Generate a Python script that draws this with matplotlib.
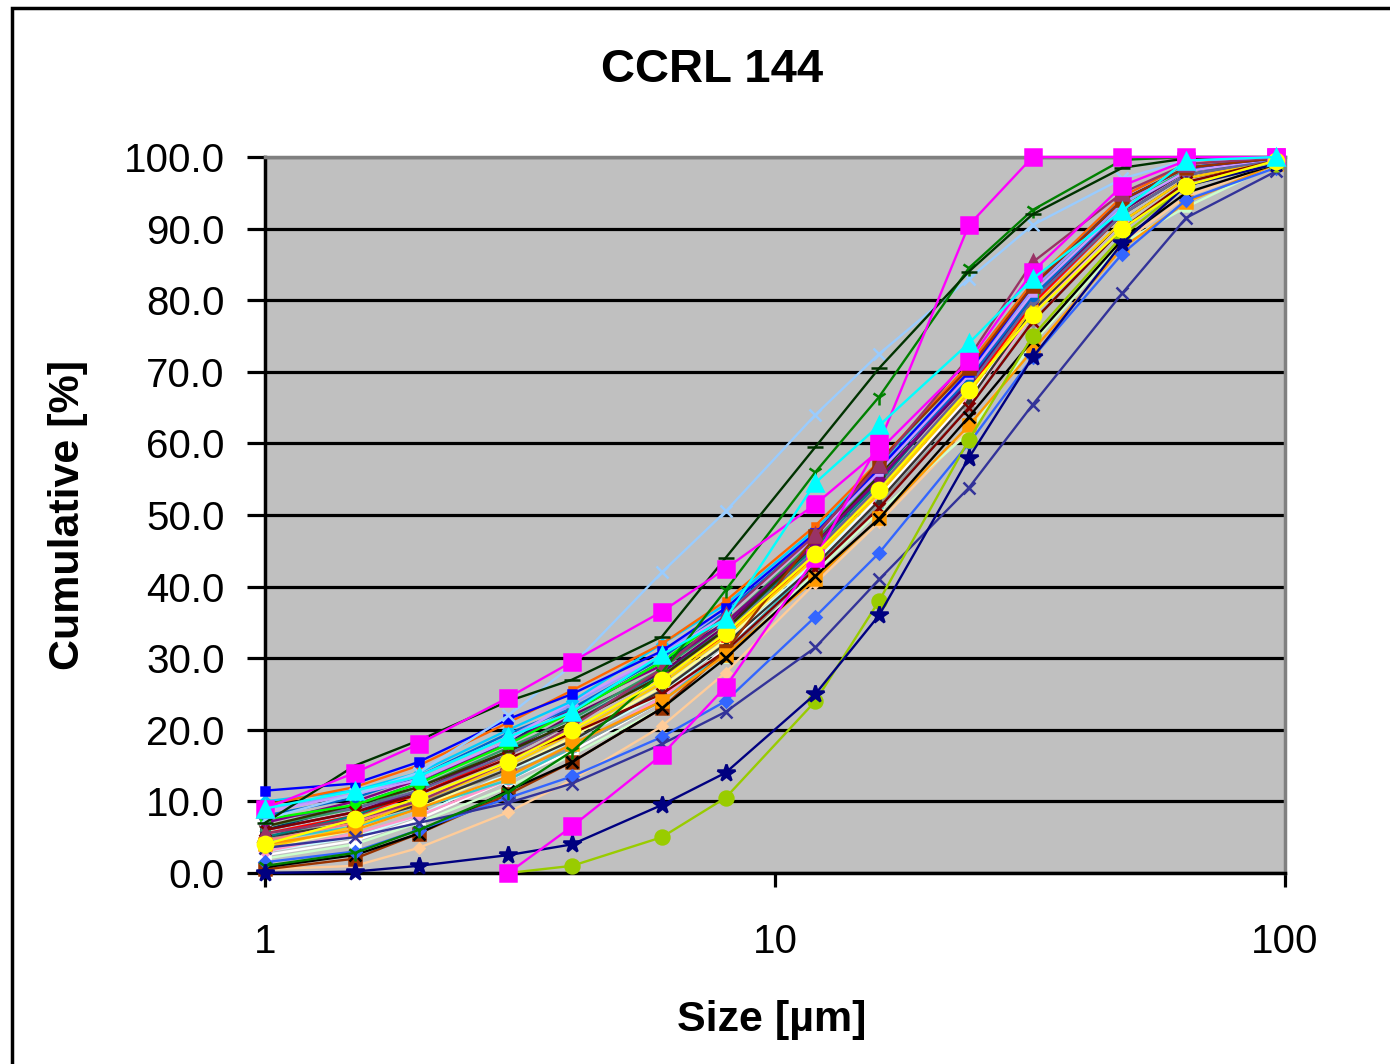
import numpy as np
from matplotlib import pyplot as plt
from matplotlib import font_manager
from matplotlib.patches import Rectangle

nan = np.nan

# particle sizes [um]
sizes = [1, 1.5, 2, 3, 4, 6, 8, 12, 16, 24, 32, 48, 64, 96]

# cumulative [%] for each sample
s_navy = [0, 0.2, 1, 2.5, 4, 9.5, 14, 25, 36, 58, 72, 88, 96, 99]
s_magenta = [9, 14, 18, 24.5, 29.5, 36.5, 42.5, 51.5, 59, 71.5, 84, 96, 99.5, 100]
s_magenta2 = [nan, nan, nan, 0, 6.5, 16.5, 26, 44, 60, 90.5, 100, 100, 100, 100]
s_yellow = [4, 7.5, 10.5, 15.5, 20, 27, 33.5, 44.5, 53.5, 67.5, 78, 90, 96, 99.5]
s_cyan = [9, 11.5, 13.5, 19, 22.5, 30.5, 35.5, 54.5, 62.5, 74, 83, 92.5, 99.5, 100]
s_purple = [7, 10, 13, 18, 23, 29, 35, 46, 55, 69, 81, 93, 98, 99.8]
s_darkred = [6, 8.5, 11, 16, 19.5, 25, 31, 42.5, 51, 65, 77, 90, 96.5, 99.5]
s_teal = [5, 8, 11.5, 17, 21, 28, 34, 45.5, 54.5, 69, 80, 92, 97.5, 99.7]
s_blue = [11.5, 12.5, 15.5, 21.5, 25, 31, 37, 47.5, 56.5, 70, 82, 94, 98.5, 99.8]
s_sky = [10, 11.5, 14, 20, 24, 32, 37.5, 48, 57, 71, 82.5, 94, 98.5, 100]
s_icecyan = [3, 5, 8, 14, 18.5, 25, 32, 43.5, 52.5, 66, 78, 91, 97, 99.5]
s_mint = [2, 4, 7, 12, 16.5, 23, 30, 42, 50.5, 61.5, 74, 88, 93, 99]
s_cream = [3.5, 6, 9, 14.5, 19, 26, 32.5, 44, 53, 67, 79, 91, 97, 99.6]
s_lightblue = [7.5, 11, 14, 22, 29, 42, 50.5, 64, 72.5, 83, 90.5, 97, 99.5, 100]
s_pink = [3, 5.5, 8, 13, 17.5, 24.5, 31, 43, 52, 66, 78, 91, 97, 99.5]
s_lavender = [8.5, 11, 13, 18.5, 24, 30.5, 36, 47, 56, 69.5, 81, 93, 98, 99.8]
s_peach = [0.5, 1, 3.5, 8.5, 13, 20.5, 28, 40.5, 49, 62, 74, 88, 94.5, 99]
s_royal = [1.5, 3, 6, 10.5, 13.5, 19, 24, 35.8, 44.7, 60, 72, 86.5, 94, 98.5]
s_turq = [4.5, 6.5, 9, 13, 17.5, 24, 31, 43, 51.5, 65, 77, 90, 96, 99.5]
s_lime = [nan, nan, nan, 0, 1, 5, 10.5, 24, 38, 60.5, 75, 89, 96, 99]
s_gold = [3.5, 6.5, 10, 15, 19.5, 26.5, 33, 44, 53, 67, 79, 91, 97, 99.6]
s_orange = [4, 6, 9, 13.5, 18, 24, 30.5, 41, 49.6, 62.5, 73, 87.3, 93.7, 99]
s_darkorange = [9.5, 12, 15, 21, 25.5, 32, 38, 48.5, 57.5, 71, 82.5, 94.5, 99, 100]
s_slate = [7.5, 9, 11.5, 16.5, 21, 27.5, 33.5, 45, 54, 68, 80, 92, 97.5, 99.6]
s_gray = [4.5, 8, 10, 14, 17.5, 24, 30.5, 42.5, 51.5, 65, 77, 90, 96, 99.5]
s_navyteal = [6, 9.5, 12.5, 18.5, 22.5, 29.5, 35, 46, 55, 69, 80.5, 93, 98, 99.8]
s_seagreen = [6.5, 9, 12, 17.5, 21.5, 28.5, 35, 46.5, 55.5, 70, 81.5, 93, 98, 99.8]
s_darkgreen = [7, 15, 18.5, 24, 27, 33, 44, 59.5, 70.5, 84, 92, 98.5, 99.8, 100]
s_olive = [6.5, 9.5, 12, 17, 21, 27.5, 34, 46, 55.5, 70, 82, 94, 98.5, 99.9]
s_brown = [0.5, 2, 5.5, 11, 15.5, 23, 31, 47, 57.5, 70.5, 82, 94, 98.5, 99.8]
s_maroon = [5.5, 7.5, 10, 15.5, 20.5, 28.5, 36, 47.2, 57, 72, 85.3, 95, 99, 99.9]
s_indigo = [3.5, 5, 7, 9.8, 12.5, 18, 22.5, 31.5, 41, 53.8, 65.4, 81, 91.5, 98]
s_charcoal = [5, 7, 9.5, 14.5, 18.5, 25.5, 32, 43, 52, 66, 78.5, 91, 97, 99.5]
s_black = [0.8, 2.5, 5.5, 11.5, 15.5, 23, 30, 41.5, 49.5, 63.7, 74.4, 88.5, 95, 99]
s_white = [2.5, 4.5, 7.5, 13, 17, 24, 31.5, 43, 52.5, 66.5, 78, 91, 97, 99.5]
s_red = [5.5, 8, 11, 16.5, 21, 27.5, 33, 44.5, 53.5, 67.5, 79.5, 92, 97.5, 99.6]
s_brightgreen = [7.5, 9.5, 12.5, 18, 22.5, 29.5, 36, 47.5, 56.5, 70, 81, 93, 98.5, 99.8]
s_green = [1, 2.8, 6, 11.3, 17, 28, 39.5, 56, 66.5, 84.5, 92.6, 99.6, 100, 100]
s_ocean = [8, 10.5, 13.5, 19.5, 23, 30, 36.5, 47, 56, 69, 80.5, 93, 98, 99.8]
s_salmon = [4.5, 7, 10, 15.5, 20, 27, 33.5, 45, 54, 68, 80, 92, 97.5, 99.6]
s_periwinkle = [9, 11, 13.5, 19, 23.5, 30.5, 37, 47.5, 56.5, 70, 81.5, 93.5, 98.5, 99.9]
s_plum = [6, 8.5, 11.5, 17, 22, 28, 34.5, 46, 55, 68.5, 80, 92.5, 98, 99.8]

# (values, colour, marker, marker size) - drawing order, last on top
series = [
    (s_peach, '#FFCC99', 'D', 5),
    (s_mint, '#CCFFCC', 's', 6),
    (s_icecyan, '#CCFFFF', '^', 6),
    (s_white, '#FFFFFF', 's', 7),
    (s_pink, '#FF99CC', 'D', 5),
    (s_cream, '#FFFF99', 'o', 5),
    (s_turq, '#33CCCC', 's', 5),
    (s_gray, '#969696', 'D', 5),
    (s_charcoal, '#333333', '^', 5),
    (s_salmon, '#FF8080', 'o', 5),
    (s_red, '#FF0000', 's', 6),
    (s_gold, '#FFCC00', 'o', 6),
    (s_teal, '#008080', 'D', 5),
    (s_plum, '#660066', 'x', 6),
    (s_navyteal, '#003366', 's', 6),
    (s_seagreen, '#339966', '^', 6),
    (s_slate, '#666699', 'D', 5),
    (s_olive, '#333300', '_', 9),
    (s_purple, '#800080', 'D', 5),
    (s_brightgreen, '#00FF00', 's', 6),
    (s_ocean, '#0066CC', 'o', 5),
    (s_periwinkle, '#9999FF', 'D', 5),
    (s_lavender, '#CC99FF', 's', 5),
    (s_sky, '#00CCFF', 'D', 5),
    (s_darkorange, '#FF6600', 's', 5),
    (s_blue, '#0000FF', 's', 6),
    (s_darkred, '#800000', 'x', 8),
    (s_brown, '#993300', 's', 8),
    (s_maroon, '#993366', '^', 10),
    (s_orange, '#FF9900', 's', 9),
    (s_black, '#000000', 'x', 8),
    (s_royal, '#3366FF', 'D', 6),
    (s_indigo, '#333399', 'x', 8),
    (s_lightblue, '#99CCFF', 'x', 9),
    (s_green, '#008000', '1', 11),
    (s_darkgreen, '#003300', '_', 12),
    (s_lime, '#99CC00', 'o', 10),
    (s_navy, '#000080', '*', 13),
    (s_magenta2, '#FF00FF', 's', 11),
    (s_magenta, '#FF00FF', 's', 11),
    (s_yellow, '#FFFF00', 'o', 11),
    (s_cyan, '#00FFFF', '^', 12),
]

names = {f.name for f in font_manager.fontManager.ttflist}
if 'Liberation Sans Narrow' in names:
    narrow = 'Liberation Sans Narrow'
    tick_size, label_size = 34, 36
else:
    narrow = 'Liberation Sans'
    tick_size, label_size = 29, 31
plt.rcParams['font.family'] = ['Liberation Sans', 'DejaVu Sans']

fig = plt.figure(figsize=(13.9, 10.64), dpi=100)
ax = fig.add_axes([265 / 1390, 1 - 873 / 1064, 1020 / 1390, 716 / 1064])
ax.set_facecolor('#C0C0C0')

for vals, col, mk, ms in series:
    ax.plot(sizes, vals, color=col, lw=1.7, marker=mk, markersize=ms,
            markerfacecolor=col, markeredgecolor=col, markeredgewidth=1.8,
            clip_on=False, zorder=3)

ax.set_xscale('log')
ax.set_xlim(1, 100)
ax.set_ylim(0, 100)
ax.set_xticks([1, 10, 100])
ax.set_xticklabels(['1', '10', '100'])
ax.xaxis.set_minor_locator(plt.NullLocator())
ax.set_yticks(np.arange(0, 101, 10))
ax.set_yticklabels(['%.1f' % v for v in np.arange(0, 101, 10)])

ax.grid(axis='y', color='black', lw=2.3, zorder=1)
ax.set_axisbelow(True)
for side in ['top', 'right']:
    ax.spines[side].set_color('#808080')
    ax.spines[side].set_linewidth(2.5)
ax.spines['left'].set_linewidth(2.5)
ax.spines['bottom'].set_linewidth(2.5)
ax.tick_params(axis='y', direction='out', length=13, width=2.3, pad=16)
ax.tick_params(axis='x', direction='out', length=10, width=2.3, pad=26)
for lab in ax.get_xticklabels() + ax.get_yticklabels():
    lab.set_family(narrow)
    lab.set_fontsize(tick_size)

fig.text(712 / 1390, 1 - 70 / 1064, 'CCRL 144', ha='center', va='center',
         fontsize=34, fontweight='bold')
fig.text(772 / 1390, 1 - 1020 / 1064, 'Size [µm]', ha='center', va='center',
         fontsize=label_size, fontweight='bold', family=narrow)
fig.text(68 / 1390, 1 - 515 / 1064, 'Cumulative [%]', ha='center', va='center',
         rotation=90, fontsize=label_size, fontweight='bold', family=narrow)

# chart area border
fig.patches.append(Rectangle((12 / 1390, -0.5), 2, 0.5 + 1 - 8 / 1064,
                             transform=fig.transFigure, fill=False,
                             edgecolor='black', lw=2.5))

fig.savefig('out.png', dpi=100)
